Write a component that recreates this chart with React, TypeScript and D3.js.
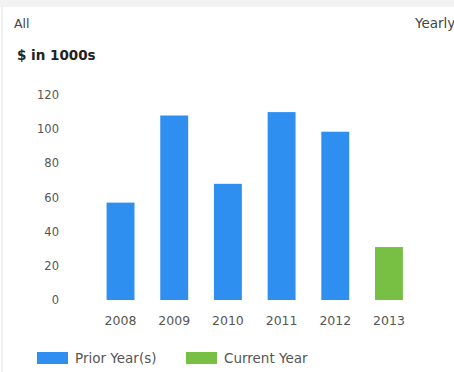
import React from "react";
import * as d3 from "d3";

const years = ["2008", "2009", "2010", "2011", "2012", "2013"];
const values = [57, 108, 68, 110, 98.5, 31];
const series = ["Prior Year(s)", "Prior Year(s)", "Prior Year(s)", "Prior Year(s)", "Prior Year(s)", "Current Year"];
const yTicks = [0, 20, 40, 60, 80, 100, 120];
const legendItems = ["Prior Year(s)", "Current Year"];
const colors: Record<string, string> = { "Prior Year(s)": "#2e8ff0", "Current Year": "#78c043" };

const W = 454;
const H = 372;
const FONT = "'DejaVu Sans', Verdana, sans-serif";

export default function App() {
  const x = d3.scaleBand<string>().domain(years).range([80.8, 428.7]).paddingInner(0.48).paddingOuter(0.48);
  const y = d3.scaleLinear().domain([0, 120]).range([300, 95]);
  return (
    <svg width={W} height={H} style={{ position: "absolute", left: 0, top: 0, background: "#fff" }} fontFamily={FONT}>
      <rect x={0} y={0} width={W} height={7} fill="#f2f2f2" />
      <line x1={2} x2={2} y1={7} y2={H} stroke="#efefef" strokeWidth={2} />
      <text x={14} y={28} fontSize={12.5} fill="#444">All</text>
      <text x={415} y={28} fontSize={13.5} fill="#444">Yearly</text>
      <text x={17} y={60} fontSize={13.5} fontWeight="bold" fill="#222">$ in 1000s</text>
      {yTicks.map((t) => (
        <text key={t} x={59} y={y(t)} dy="0.35em" textAnchor="end" fontSize={11.5} fill="#555">{t}</text>
      ))}
      {years.map((yr, i) => (
        <rect key={yr} x={x(yr)} y={y(values[i])} width={x.bandwidth()} height={y(0) - y(values[i])} fill={colors[series[i]]} />
      ))}
      {years.map((yr) => (
        <text key={yr} x={(x(yr) as number) + x.bandwidth() / 2} y={321} dy="0.35em" textAnchor="middle" fontSize={12.5} fill="#555">{yr}</text>
      ))}
      {legendItems.map((item, i) => {
        const lx = i === 0 ? 37 : 186;
        return (
          <g key={item}>
            <rect x={lx} y={352} width={31} height={12} fill={colors[item]} />
            <text x={lx + 38} y={358} dy="0.35em" fontSize={13.5} fill="#555">{item}</text>
          </g>
        );
      })}
    </svg>
  );
}
